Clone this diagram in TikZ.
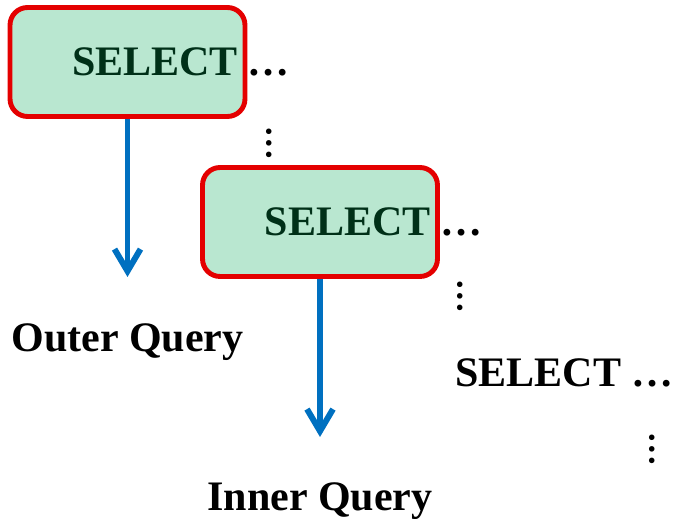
\documentclass[tikz,border=0pt]{standalone}
\usepackage{fontspec}
\setmainfont{Liberation Serif}
\usetikzlibrary{arrows.meta}
\definecolor{boxfill}{RGB}{185,231,208}
\definecolor{boxline}{RGB}{228,0,0}
\definecolor{seltext}{RGB}{0,48,24}
\definecolor{arrowblue}{RGB}{0,112,192}
\tikzset{
  querybox/.style={draw=boxline, line width=2.8pt, fill=boxfill,
    rounded corners=0.35cm, minimum width=4.7cm, minimum height=2.18cm,
    text width=4.42cm, align=right, inner xsep=0.14cm, text=seltext},
  flowarrow/.style={draw=arrowblue, line width=3.4pt,
    -{Straight Barb[length=0.44cm,width=0.52cm]}},
  vdotsmark/.style={rotate=90, anchor=base, inner sep=0pt,
    font=\fontsize{19.5}{20}\selectfont\bfseries}
}

\begin{document}
\begin{tikzpicture}[x=0.02cm, y=-0.02cm, font=\fontsize{23.9}{28}\selectfont\bfseries]
	\useasboundingbox (0,0) rectangle (674,519);
	
	\node[querybox] (q1) at (127.5,62) {SELECT};
	\node[querybox] (q2) at (320,222) {SELECT};
	\node[anchor=base west, inner sep=0pt] (d1) at (q1.base -| q1.east) {…};
	\node[anchor=base west, inner sep=0pt] (d2) at (q2.base -| q2.east) {…};
	\node[anchor=base west, inner sep=0pt] (q3) at (455,387) {SELECT …};
	
	\node[vdotsmark] (v1) at (271,143) {…};
	\node[vdotsmark] (v2) at (462,296) {…};
	\node[vdotsmark] (v3) at (654,449.5) {…};
	
	\coordinate (a1) at (127.5,277);
	\coordinate (a2) at (320,437);
	\draw[flowarrow] (q1.south)--(a1);
	\draw[flowarrow] (q2.south)--(a2);
	
	\node[anchor=base, inner sep=0pt] (outer) at (127.5,352) {Outer Query};
	\node[anchor=base, inner sep=0pt] (inner) at (320,511) {Inner Query};
\end{tikzpicture}
\end{document}
